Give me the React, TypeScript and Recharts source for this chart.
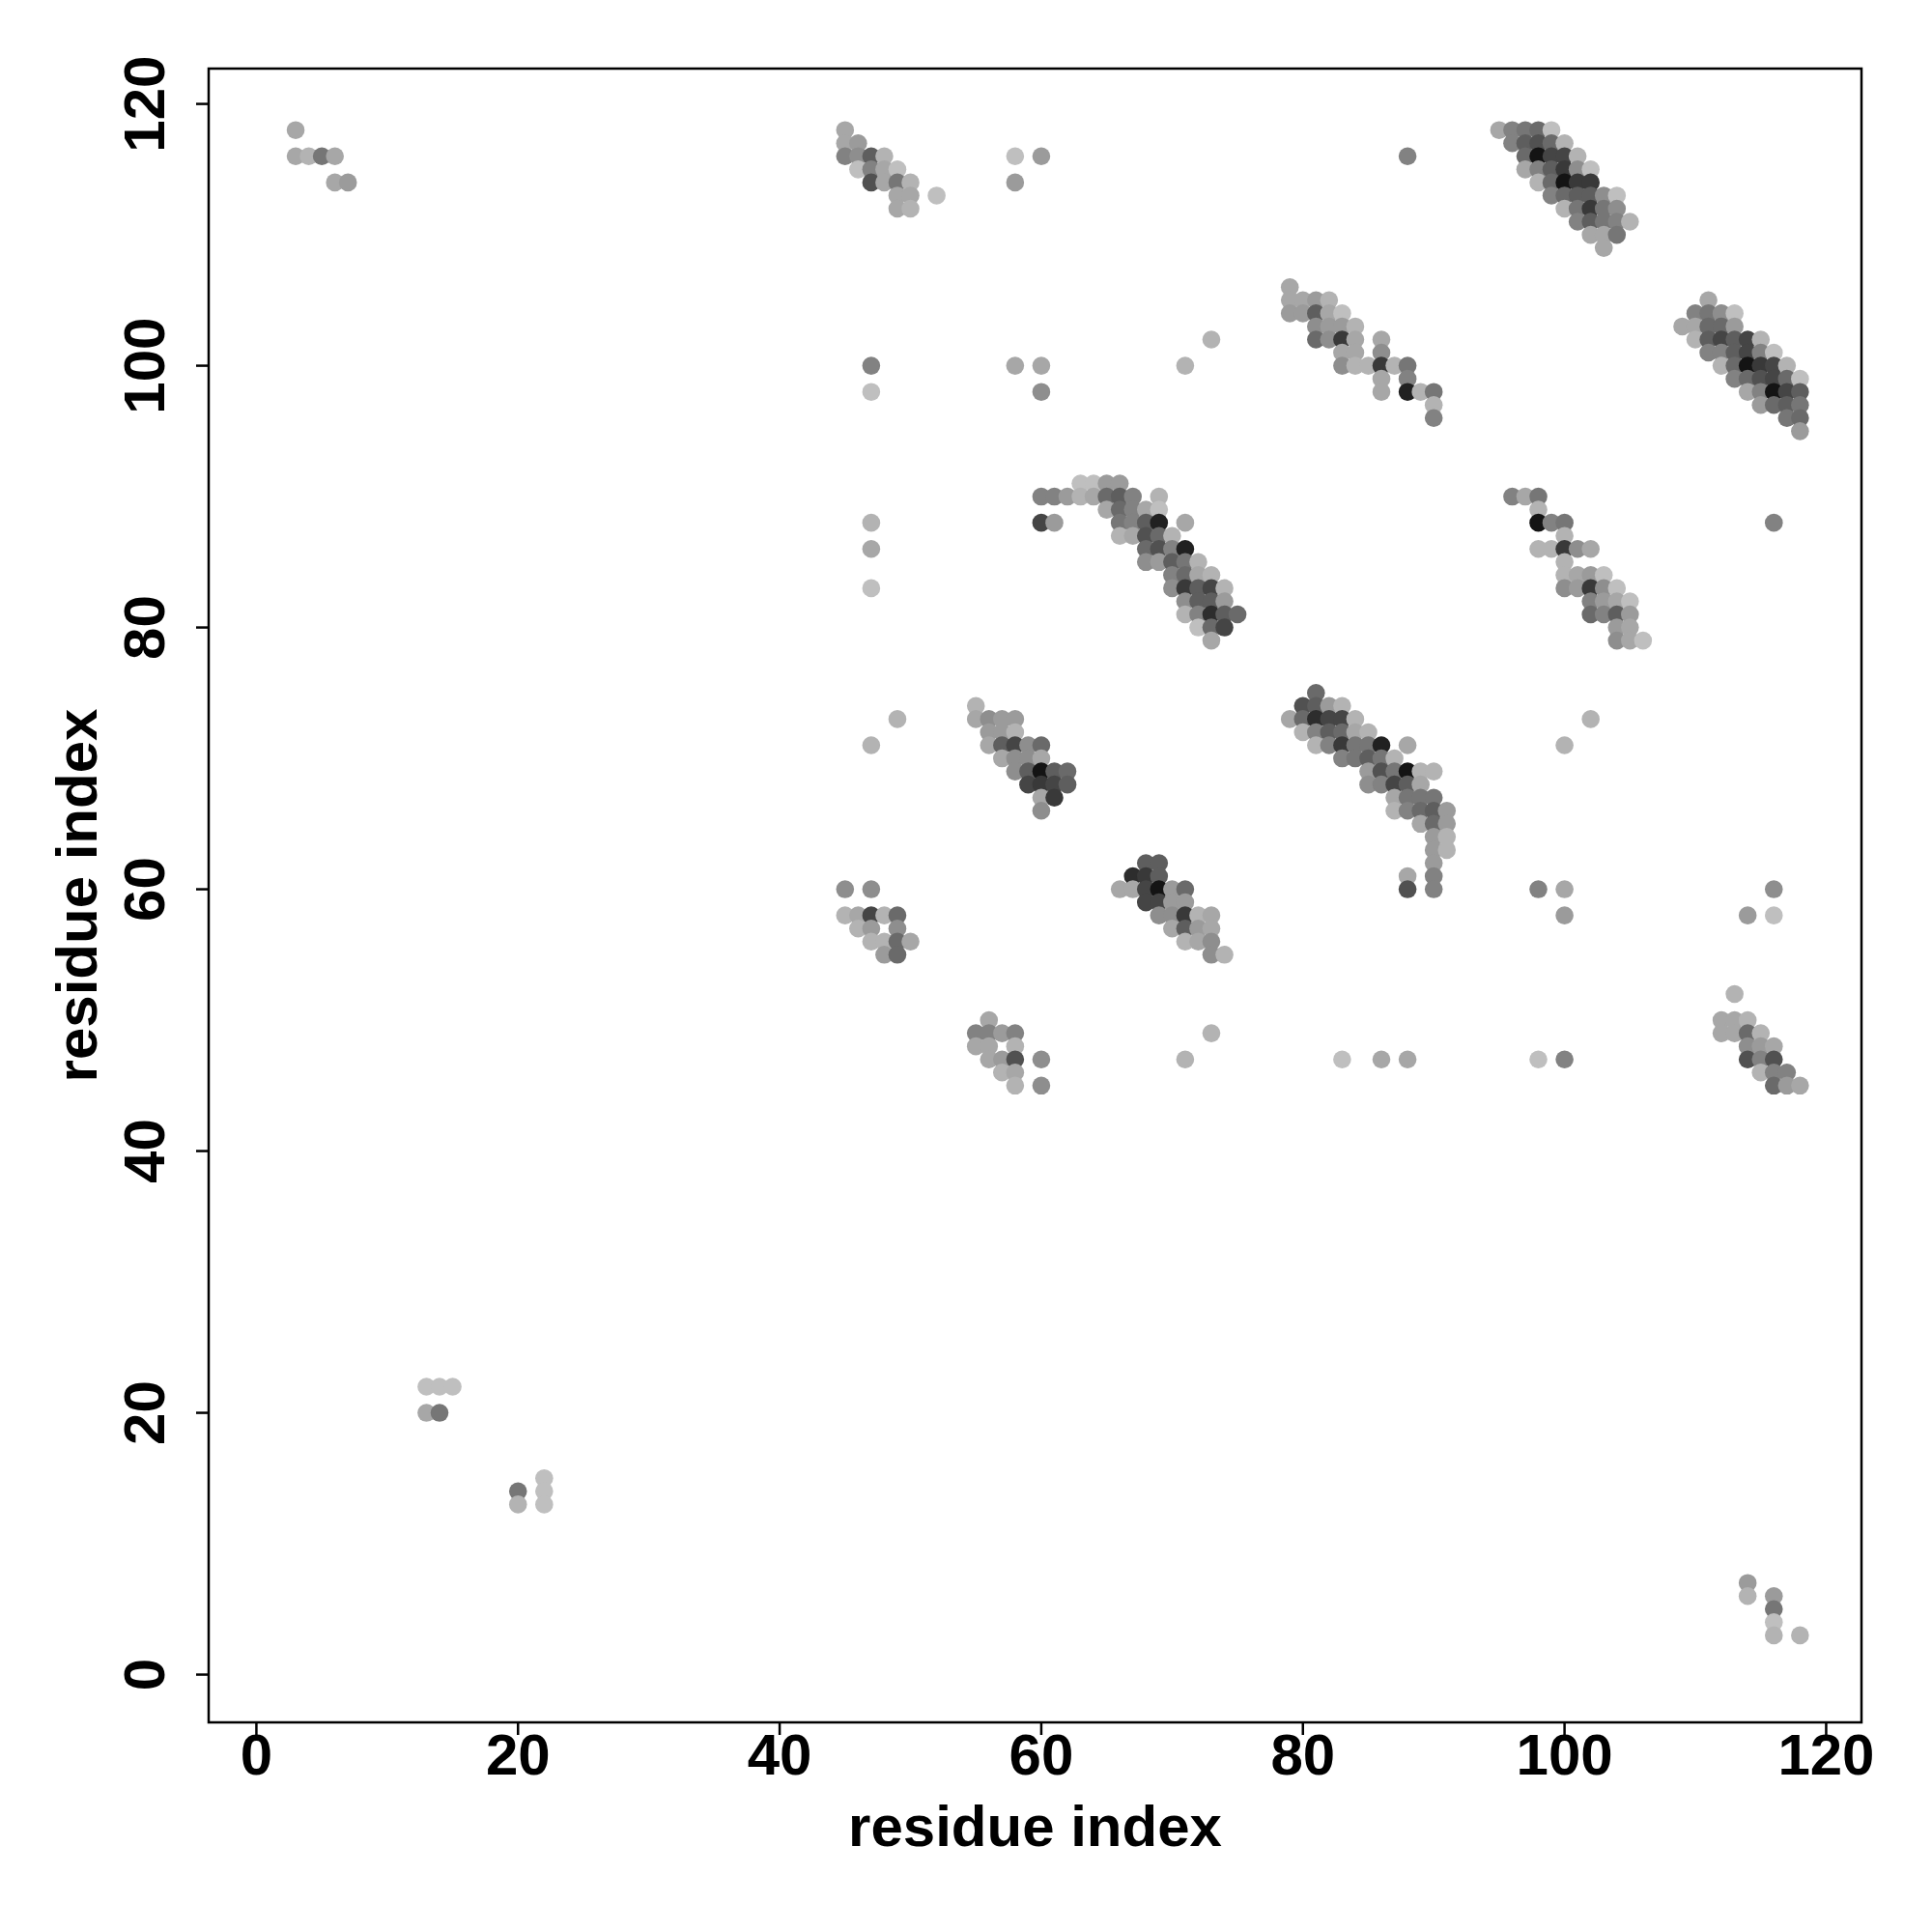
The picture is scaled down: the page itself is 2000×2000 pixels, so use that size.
import React from "react";
import {
  ScatterChart,
  Scatter,
  XAxis,
  YAxis,
  ReferenceArea,
} from "recharts";

// contact map points: [residue i, residue j, contact probability]
type Contact = [number, number, number];

const topLeft: Contact[] = [
  [3, 118, 0.3], [3, 116, 0.3], [4, 116, 0.25], [5, 116, 0.5], [6, 116, 0.3],
  [6, 114, 0.3], [7, 114, 0.35],
];

const bottomLeft: Contact[] = [
  [13, 22, 0.2], [14, 22, 0.2], [15, 22, 0.2], [13, 20, 0.3], [14, 20, 0.5],
  [20, 14, 0.5], [20, 13, 0.25], [22, 15, 0.2], [22, 14, 0.2], [22, 13, 0.2],
];

const bottomRight: Contact[] = [
  [114, 7, 0.35], [114, 6, 0.25], [116, 6, 0.35], [116, 5, 0.5], [116, 4, 0.2],
  [116, 3, 0.25], [118, 3, 0.25],
];

const isolated: Contact[] = [
  [58, 116, 0.2], [60, 116, 0.35], [58, 114, 0.35], [88, 116, 0.45],
  [47, 100, 0.45], [47, 98, 0.2], [58, 100, 0.3], [60, 100, 0.3], [60, 98, 0.4],
  [71, 100, 0.25], [73, 102, 0.25], [47, 88, 0.25], [47, 86, 0.3], [47, 83, 0.2],
  [116, 88, 0.45], [47, 71, 0.25], [49, 73, 0.25], [100, 71, 0.25], [102, 73, 0.25],
  [98, 60, 0.45], [100, 60, 0.3], [100, 58, 0.35], [116, 60, 0.4], [114, 58, 0.35],
  [116, 58, 0.2], [71, 47, 0.25], [73, 49, 0.25], [83, 47, 0.2], [86, 47, 0.3],
  [88, 47, 0.3], [98, 47, 0.2], [100, 47, 0.45],
];

const block47_115: Contact[] = [
  [45, 118, 0.3], [45, 117, 0.3], [46, 117, 0.35], [45, 116, 0.45], [46, 116, 0.4],
  [47, 116, 0.6], [48, 116, 0.25], [46, 115, 0.2], [47, 115, 0.45], [48, 115, 0.3],
  [49, 115, 0.2], [47, 114, 0.65], [48, 114, 0.3], [49, 114, 0.5], [50, 114, 0.25],
  [49, 113, 0.3], [50, 113, 0.3], [52, 113, 0.2], [49, 112, 0.3], [50, 112, 0.25],
];

const block100_114: Contact[] = [
  [95, 118, 0.3], [96, 118, 0.45], [97, 118, 0.5], [98, 118, 0.55], [99, 118, 0.2],
  [96, 117, 0.45], [97, 117, 0.6], [98, 117, 0.65], [99, 117, 0.55], [100, 117, 0.25],
  [97, 116, 0.55], [98, 116, 0.9], [99, 116, 0.7], [100, 116, 0.7], [101, 116, 0.25],
  [97, 115, 0.3], [98, 115, 0.45], [99, 115, 0.6], [100, 115, 0.75], [101, 115, 0.4], [102, 115, 0.2],
  [98, 114, 0.25], [99, 114, 0.55], [100, 114, 0.9], [101, 114, 0.75], [102, 114, 0.75],
  [99, 113, 0.45], [100, 113, 0.55], [101, 113, 0.6], [102, 113, 0.6], [103, 113, 0.4], [104, 113, 0.2],
  [100, 112, 0.25], [101, 112, 0.5], [102, 112, 0.75], [103, 112, 0.5], [104, 112, 0.4],
  [101, 111, 0.45], [102, 111, 0.6], [103, 111, 0.5], [104, 111, 0.45], [105, 111, 0.25],
  [102, 110, 0.3], [103, 110, 0.3], [104, 110, 0.5],
  [103, 109, 0.3],
];

const block84_101: Contact[] = [
  [79, 106, 0.3],
  [79, 105, 0.3], [80, 105, 0.3], [81, 105, 0.35], [82, 105, 0.25],
  [79, 104, 0.35], [80, 104, 0.35], [81, 104, 0.6], [82, 104, 0.3], [83, 104, 0.2],
  [81, 103, 0.4], [82, 103, 0.35], [83, 103, 0.35], [84, 103, 0.25],
  [81, 102, 0.55], [82, 102, 0.4], [83, 102, 0.75], [84, 102, 0.3], [86, 102, 0.3],
  [83, 101, 0.3], [84, 101, 0.3], [86, 101, 0.4],
  [83, 100, 0.4], [84, 100, 0.25], [85, 100, 0.25], [86, 100, 0.75], [87, 100, 0.25], [88, 100, 0.5],
  [86, 99, 0.3], [88, 99, 0.45],
  [86, 98, 0.3], [88, 98, 0.85], [89, 98, 0.25], [90, 98, 0.5],
  [90, 97, 0.25], [90, 96, 0.45],
];

const block114_100: Contact[] = [
  [111, 105, 0.3],
  [110, 104, 0.45], [111, 104, 0.5], [112, 104, 0.4], [113, 104, 0.2],
  [109, 103, 0.3], [110, 103, 0.3], [111, 103, 0.55], [112, 103, 0.55], [113, 103, 0.35],
  [110, 102, 0.25], [111, 102, 0.6], [112, 102, 0.7], [113, 102, 0.6], [114, 102, 0.7], [115, 102, 0.25],
  [111, 101, 0.45], [112, 101, 0.45], [113, 101, 0.6], [114, 101, 0.7], [115, 101, 0.45], [116, 101, 0.2],
  [112, 100, 0.25], [113, 100, 0.55], [114, 100, 0.9], [115, 100, 0.75], [116, 100, 0.7], [117, 100, 0.25],
  [113, 99, 0.45], [114, 99, 0.55], [115, 99, 0.65], [116, 99, 0.7], [117, 99, 0.55], [118, 99, 0.2],
  [114, 98, 0.3], [115, 98, 0.45], [116, 98, 0.9], [117, 98, 0.7], [118, 98, 0.6],
  [115, 97, 0.35], [116, 97, 0.55], [117, 97, 0.6], [118, 97, 0.5],
  [117, 96, 0.5], [118, 96, 0.55],
  [118, 95, 0.35],
];

const block68_85: Contact[] = [
  [63, 91, 0.2], [64, 91, 0.2], [65, 91, 0.35], [66, 91, 0.35],
  [60, 90, 0.45], [61, 90, 0.45], [62, 90, 0.35], [63, 90, 0.25], [64, 90, 0.3],
  [65, 90, 0.55], [66, 90, 0.6], [67, 90, 0.45], [69, 90, 0.25],
  [65, 89, 0.3], [66, 89, 0.55], [67, 89, 0.45], [68, 89, 0.3], [69, 89, 0.2],
  [60, 88, 0.7], [61, 88, 0.35], [66, 88, 0.5], [67, 88, 0.45], [68, 88, 0.6], [69, 88, 0.85], [71, 88, 0.3],
  [66, 87, 0.25], [67, 87, 0.3], [68, 87, 0.65], [69, 87, 0.55], [70, 87, 0.25],
  [68, 86, 0.55], [69, 86, 0.65], [70, 86, 0.45], [71, 86, 0.85],
  [68, 85, 0.4], [69, 85, 0.35], [70, 85, 0.6], [71, 85, 0.5], [72, 85, 0.25],
  [70, 84, 0.45], [71, 84, 0.55], [72, 84, 0.3], [73, 84, 0.25],
  [70, 83, 0.4], [71, 83, 0.75], [72, 83, 0.6], [73, 83, 0.7], [74, 83, 0.25],
  [71, 82, 0.4], [72, 82, 0.6], [73, 82, 0.6], [74, 82, 0.35],
  [71, 81, 0.25], [72, 81, 0.45], [73, 81, 0.8], [74, 81, 0.6], [75, 81, 0.55],
  [72, 80, 0.2], [73, 80, 0.55], [74, 80, 0.7],
  [73, 79, 0.3],
];

const block101_84: Contact[] = [
  [96, 90, 0.45], [97, 90, 0.3], [98, 90, 0.5],
  [98, 89, 0.25],
  [98, 88, 0.9], [99, 88, 0.45], [100, 88, 0.5],
  [100, 87, 0.25],
  [98, 86, 0.25], [99, 86, 0.25], [100, 86, 0.75], [101, 86, 0.4], [102, 86, 0.3],
  [100, 85, 0.25],
  [100, 84, 0.25], [101, 84, 0.3], [102, 84, 0.35], [103, 84, 0.2],
  [100, 83, 0.4], [101, 83, 0.35], [102, 83, 0.75], [103, 83, 0.4], [104, 83, 0.2],
  [102, 82, 0.45], [103, 82, 0.35], [104, 82, 0.3], [105, 82, 0.2],
  [102, 81, 0.55], [103, 81, 0.45], [104, 81, 0.6], [105, 81, 0.35],
  [104, 80, 0.35], [105, 80, 0.3],
  [104, 79, 0.4], [105, 79, 0.3], [106, 79, 0.2],
];

const block58_70: Contact[] = [
  [55, 74, 0.25],
  [55, 73, 0.3], [56, 73, 0.4], [57, 73, 0.35], [58, 73, 0.35],
  [56, 72, 0.35], [57, 72, 0.35], [58, 72, 0.25],
  [56, 71, 0.3], [57, 71, 0.6], [58, 71, 0.7], [59, 71, 0.4], [60, 71, 0.55],
  [57, 70, 0.3], [58, 70, 0.4], [59, 70, 0.4], [60, 70, 0.3],
  [58, 69, 0.4], [59, 69, 0.6], [60, 69, 0.9], [61, 69, 0.6], [62, 69, 0.55],
  [59, 68, 0.7], [60, 68, 0.75], [61, 68, 0.7], [62, 68, 0.6],
  [60, 67, 0.3], [61, 67, 0.75],
  [60, 66, 0.4],
];

const block85_68: Contact[] = [
  [81, 75, 0.55],
  [80, 74, 0.65], [81, 74, 0.6], [82, 74, 0.35], [83, 74, 0.25],
  [79, 73, 0.3], [80, 73, 0.55], [81, 73, 0.8], [82, 73, 0.7], [83, 73, 0.7], [84, 73, 0.25],
  [80, 72, 0.25], [81, 72, 0.45], [82, 72, 0.6], [83, 72, 0.55], [84, 72, 0.3], [85, 72, 0.25],
  [81, 71, 0.25], [82, 71, 0.45], [83, 71, 0.75], [84, 71, 0.5], [85, 71, 0.5], [86, 71, 0.85], [88, 71, 0.3],
  [83, 70, 0.45], [84, 70, 0.5], [85, 70, 0.6], [86, 70, 0.5], [87, 70, 0.25],
  [85, 69, 0.35], [86, 69, 0.65], [87, 69, 0.5], [88, 69, 0.9], [89, 69, 0.25], [90, 69, 0.25],
  [85, 68, 0.4], [86, 68, 0.45], [87, 68, 0.7], [88, 68, 0.6], [89, 68, 0.3],
  [87, 67, 0.3], [88, 67, 0.5], [89, 67, 0.5], [90, 67, 0.5],
  [87, 66, 0.25], [88, 66, 0.45], [89, 66, 0.55], [90, 66, 0.6], [91, 66, 0.35],
  [89, 65, 0.3], [90, 65, 0.55], [91, 65, 0.35],
  [90, 64, 0.35], [91, 64, 0.25],
  [90, 63, 0.35], [91, 63, 0.25],
  [90, 62, 0.35],
  [88, 61, 0.3], [90, 61, 0.45],
  [88, 60, 0.65], [90, 60, 0.45],
];

const block47_57: Contact[] = [
  [45, 60, 0.4], [47, 60, 0.4],
  [45, 58, 0.25], [46, 58, 0.3], [47, 58, 0.7], [48, 58, 0.25], [49, 58, 0.55],
  [46, 57, 0.25], [47, 57, 0.35], [49, 57, 0.4],
  [47, 56, 0.25], [48, 56, 0.25], [49, 56, 0.55], [50, 56, 0.3],
  [48, 55, 0.35], [49, 55, 0.55],
];

const block69_59: Contact[] = [
  [68, 62, 0.6], [69, 62, 0.6],
  [67, 61, 0.8], [68, 61, 0.75], [69, 61, 0.6],
  [66, 60, 0.3], [67, 60, 0.3], [68, 60, 0.7], [69, 60, 0.9], [70, 60, 0.35], [71, 60, 0.55],
  [68, 59, 0.7], [69, 59, 0.7], [70, 59, 0.35], [71, 59, 0.35],
  [69, 58, 0.4], [70, 58, 0.4], [71, 58, 0.75], [72, 58, 0.25], [73, 58, 0.3],
  [70, 57, 0.3], [71, 57, 0.6], [72, 57, 0.35], [73, 57, 0.3],
  [71, 56, 0.25], [72, 56, 0.3], [73, 56, 0.4],
  [73, 55, 0.4], [74, 55, 0.25],
];

const block57_47: Contact[] = [
  [56, 50, 0.3],
  [55, 49, 0.45], [56, 49, 0.45], [57, 49, 0.35], [58, 49, 0.45],
  [55, 48, 0.3], [56, 48, 0.3], [58, 48, 0.25],
  [56, 47, 0.3], [57, 47, 0.35], [58, 47, 0.65], [60, 47, 0.4],
  [57, 46, 0.25], [58, 46, 0.3],
  [58, 45, 0.25], [60, 45, 0.4],
];

const block115_48: Contact[] = [
  [113, 52, 0.25],
  [112, 50, 0.3], [113, 50, 0.3], [114, 50, 0.25],
  [112, 49, 0.3], [113, 49, 0.3], [114, 49, 0.55], [115, 49, 0.25],
  [114, 48, 0.4], [115, 48, 0.35], [116, 48, 0.3],
  [114, 47, 0.65], [115, 47, 0.45], [116, 47, 0.65],
  [115, 46, 0.25], [116, 46, 0.45], [117, 46, 0.45],
  [116, 45, 0.55], [117, 45, 0.35], [118, 45, 0.3],
];

const axisTicks = [0, 20, 40, 60, 80, 100, 120];
const axisDomain: [number, number] = [-3.65, 122.7];

const allContacts = [
  ...topLeft, ...bottomLeft, ...bottomRight, ...isolated,
  ...block47_115, ...block100_114, ...block84_101, ...block114_100,
  ...block68_85, ...block101_84, ...block58_70, ...block85_68,
  ...block47_57, ...block69_59, ...block57_47, ...block115_48,
].map(([x, y, p]) => ({ x, y, p }));

const FONT = "'Liberation Sans', Arial, Helvetica, sans-serif";
const W = 2000;
const H = 2000;
const PLOT_LEFT = 216;
const PLOT_RIGHT = 1927;
const PLOT_TOP = 71;
const PLOT_BOTTOM = 1783;

function grayOf(p: number) {
  const g = Math.max(0, Math.min(255, Math.round(240 - 244 * p)));
  return `rgb(${g},${g},${g})`;
}

const XTick = (props: any) => {
  const { x, y, payload } = props;
  return (
    <text x={x} y={y} textAnchor="middle" dominantBaseline="central"
      fontFamily={FONT} fontWeight="bold" fontSize={60} fill="#000">
      {payload.value}
    </text>
  );
};

const YTick = (props: any) => {
  const { x, y, payload } = props;
  return (
    <text x={x} y={y} textAnchor="middle" dominantBaseline="central"
      transform={`rotate(-90, ${x}, ${y})`}
      fontFamily={FONT} fontWeight="bold" fontSize={60} fill="#000">
      {payload.value}
    </text>
  );
};

const Dot = (props: any) => {
  const { cx, cy, payload } = props;
  if (cx == null || cy == null) return null;
  return <circle cx={cx} cy={cy} r={9.3} fill={grayOf(payload.p)} />;
};

export default function App() {
  const midX = (PLOT_LEFT + PLOT_RIGHT) / 2;
  const midY = (PLOT_TOP + PLOT_BOTTOM) / 2;
  return (
    <div style={{ position: "absolute", left: 0, top: 0, width: W, height: H, background: "#fff" }}>
      <ScatterChart
        width={W}
        height={H}
        margin={{ top: PLOT_TOP, right: W - PLOT_RIGHT, bottom: 0, left: 0 }}
      >
        <XAxis
          type="number"
          dataKey="x"
          domain={axisDomain}
          ticks={axisTicks}
          allowDataOverflow
          height={H - PLOT_BOTTOM}
          axisLine={false}
          tickSize={13}
          tickMargin={20}
          tickLine={{ stroke: "#000", strokeWidth: 2.5 }}
          tick={<XTick />}
          interval={0}
          label={{
            content: () => (
              <text x={midX} y={1890} textAnchor="middle" dominantBaseline="central"
                fontFamily={FONT} fontWeight="bold" fontSize={60} fill="#000">
                residue index
              </text>
            ),
          }}
        />
        <YAxis
          type="number"
          dataKey="y"
          domain={axisDomain}
          ticks={axisTicks}
          allowDataOverflow
          width={PLOT_LEFT}
          axisLine={false}
          tickSize={13}
          tickMargin={53}
          tickLine={{ stroke: "#000", strokeWidth: 2.5 }}
          tick={<YTick />}
          interval={0}
          label={{
            content: () => (
              <text x={79} y={midY} textAnchor="middle" dominantBaseline="central"
                transform={`rotate(-90, 79, ${midY})`}
                fontFamily={FONT} fontWeight="bold" fontSize={60} fill="#000">
                residue index
              </text>
            ),
          }}
        />
        <Scatter data={allContacts} shape={<Dot />} isAnimationActive={false} />
        <ReferenceArea
          x1={axisDomain[0]}
          x2={axisDomain[1]}
          y1={axisDomain[0]}
          y2={axisDomain[1]}
          fill="none"
          stroke="#000"
          strokeWidth={2.5}
          ifOverflow="visible"
        />
      </ScatterChart>
    </div>
  );
}
